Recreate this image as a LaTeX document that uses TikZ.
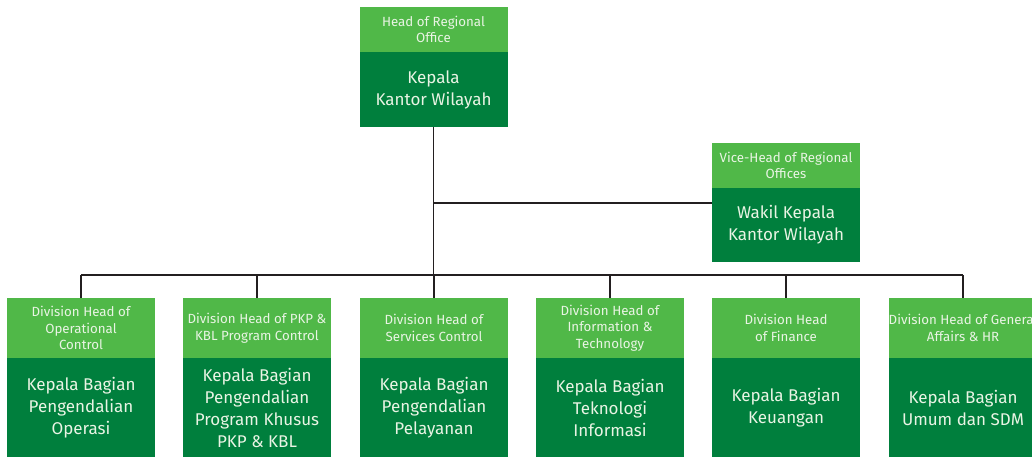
\documentclass[tikz,border=0pt]{standalone}
\usepackage{fontspec}
\setmainfont{Fira Sans}
\usetikzlibrary{positioning}
\definecolor{OrgLight}{HTML}{50B848}
\definecolor{OrgDark}{HTML}{007F3D}
\definecolor{OrgText}{HTML}{E9F4E4}
\definecolor{OrgLine}{HTML}{231F20}

\begin{document}
\begin{tikzpicture}[x=1pt,y=1pt,
  cell/.style={minimum width=148pt,inner sep=0pt,outer sep=0pt,
    align=center,text=OrgText},
  head/.style={cell,fill=OrgLight,font=\fontsize{13.3}{16.5}\selectfont},
  body/.style={cell,fill=OrgDark,font=\fontsize{17}{22}\selectfont},
  link/.style={OrgLine,line width=1.8pt}]
  \clip (0,0) rectangle (1032,-457);
  % top level
  \node[head,minimum height=45pt] (kanwilH) at (433.5,-29.5) {Head of Regional\\Office};
  \node[body,minimum height=75pt,below=0pt of kanwilH] (kanwil) {Kepala\\Kantor Wilayah};
  \node[head,minimum height=45pt] (wakilH) at (786,-165.5) {Vice-Head of Regional\\Offices};
  \node[body,minimum height=74pt,below=0pt of wakilH] (wakil) {Wakil Kepala\\Kantor Wilayah};
  % divisions
  \node[head,minimum height=60pt] (divH1) at ( 81,-328) {Division Head of\\Operational\\Control};
  \node[head,minimum height=60pt] (divH2) at (257,-328) {Division Head of PKP \&\\KBL Program Control};
  \node[head,minimum height=60pt] (divH3) at (434,-328) {Division Head of\\Services Control};
  \node[head,minimum height=60pt] (divH4) at (610,-328) {Division Head of\\Information \&\\Technology};
  \node[head,minimum height=60pt] (divH5) at (786,-328) {Division Head\\of Finance};
  \node[head,minimum height=60pt] (divH6) at (963,-328) {Division Head of General\\Affairs \& HR};
  \node[body,minimum height=99pt,below=0pt of divH1] (div1) {Kepala Bagian\\Pengendalian\\Operasi};
  \node[body,minimum height=99pt,below=0pt of divH2] (div2) {Kepala Bagian\\Pengendalian\\Program Khusus\\PKP \& KBL};
  \node[body,minimum height=99pt,below=0pt of divH3] (div3) {Kepala Bagian\\Pengendalian\\Pelayanan};
  \node[body,minimum height=99pt,below=0pt of divH4] (div4) {Kepala Bagian\\Teknologi\\Informasi};
  \node[body,minimum height=99pt,below=0pt of divH5] (div5) {Kepala Bagian\\Keuangan};
  \node[body,minimum height=99pt,below=0pt of divH6] (div6) {Kepala Bagian\\Umum dan SDM};
  % connectors
  \coordinate (bus) at (433.5,-275);
  \coordinate (vj) at (433.5,-203);
  \draw[link] (kanwil.south) -- (bus);
  \draw[link] (vj) -- (vj -| wakil.west);
  \draw[link] (divH1.north |- bus) -- (divH6.north |- bus);
  \foreach \i in {1,...,6}{
    \draw[link] (divH\i.north |- bus) -- (divH\i.north);
  }
\end{tikzpicture}
\end{document}
